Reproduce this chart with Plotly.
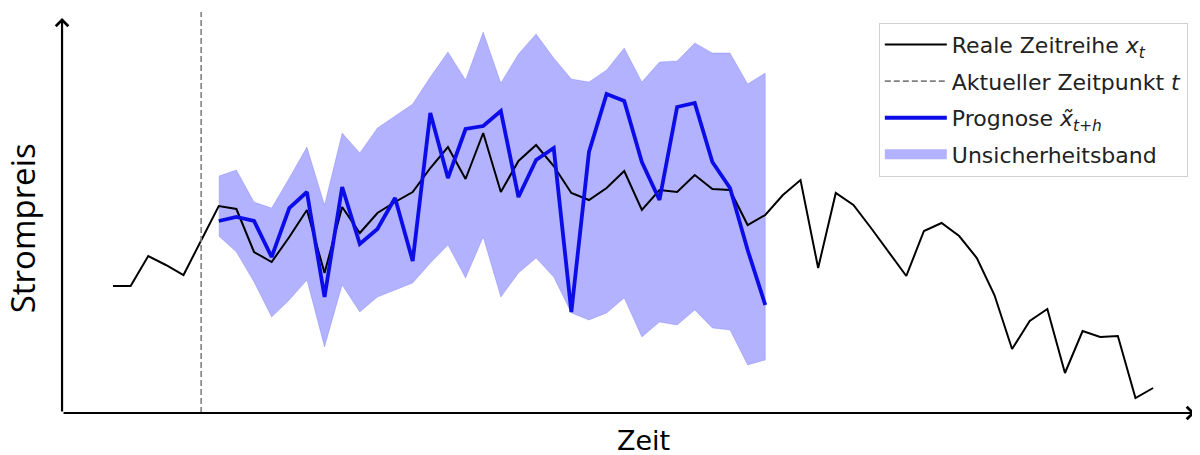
import plotly.graph_objects as go

# ---- data (arbitrary price units) ----
time_idx = list(range(60))
real_series = [127, 127, 157, 148, 138, 173, 207, 204, 161, 151,
               176, 203, 140, 206, 180, 200, 211, 221, 245, 266,
               234, 280, 221, 252, 268, 247, 220, 213, 225, 242,
               203, 223, 221, 238, 224, 223, 188, 198, 218, 233,
               145, 220, 208, 185, 161, 137, 182, 190, 177, 155,
               118, 64, 92, 104, 40, 82, 76, 77, 15, 25]

current_t = 5
forecast_idx = list(range(6, 38))
forecast = [192, 196, 192, 156, 205, 221, 116, 226, 169, 184,
            215, 152, 300, 235, 284, 287, 302, 216, 253, 265,
            101, 261, 319, 312, 251, 213, 306, 310, 251, 225,
            163, 108]
band_upper = [237, 243, 211, 205, 235, 266, 208, 280, 260, 285,
              297, 309, 336, 361, 333, 381, 330, 359, 379, 355,
              334, 331, 343, 365, 331, 351, 352, 370, 360, 360,
              329, 340]
band_lower = [177, 161, 131, 96, 113, 133, 66, 128, 101, 116,
              123, 130, 150, 168, 135, 176, 116, 140, 155, 136,
              100, 93, 100, 115, 76, 91, 88, 103, 85, 83,
              48, 53]

x_range = [-3.176, 61.66]
y_range = [-5, 405]
vline_top = 401
axis_x0 = -2.89
axis_x1 = 61.37
axis_y1 = 395

BAND_COLOR = "rgba(0,0,255,0.3)"

fig = go.Figure()

# uncertainty band
fig.add_trace(go.Scatter(
    x=forecast_idx + forecast_idx[::-1],
    y=band_upper + band_lower[::-1],
    fill="toself", fillcolor=BAND_COLOR,
    line=dict(color=BAND_COLOR, width=0.5),
    mode="lines", name="Unsicherheitsband", showlegend=False,
    legendgroup="d", hoverinfo="skip"))

# real series
fig.add_trace(go.Scatter(
    x=time_idx, y=real_series, mode="lines",
    line=dict(color="black", width=2),
    name="Reale Zeitreihe <i>x</i><sub><i>t</i></sub>",
    legendgroup="a", legendrank=1))

# current time
fig.add_trace(go.Scatter(
    x=[current_t, current_t], y=[0, vline_top], mode="lines",
    line=dict(color="#808080", width=1.6, dash="6px,3px"),
    name="Aktueller Zeitpunkt <i>t</i>",
    legendgroup="b", legendrank=2))

# forecast
fig.add_trace(go.Scatter(
    x=forecast_idx, y=forecast, mode="lines",
    line=dict(color="#0c0ce8", width=3.8),
    name="Prognose <i>x\u0303</i><sub><i>t+h</i></sub>",
    legendgroup="c", legendrank=3))

# legend entry for the band (rectangular swatch)
fig.add_trace(go.Scatter(
    x=[None], y=[None], mode="lines",
    line=dict(color=BAND_COLOR, width=17),
    name="Unsicherheitsband", legendgroup="d", legendrank=4))

# axis arrows
for (x0, y0, x1, y1) in [(axis_x0, 0, axis_x0, axis_y1), (axis_x0, 0, axis_x1, 0)]:
    fig.add_annotation(x=x1, y=y1, ax=x0, ay=y0, xref="x", yref="y",
                       axref="x", ayref="y", showarrow=True, text="",
                       arrowhead=4, arrowsize=1.1, arrowwidth=2.2,
                       arrowcolor="black", standoff=0, startstandoff=0)

fig.add_annotation(text="Strompreis", xref="paper", yref="paper",
                   x=-0.0305, y=0.463, textangle=-90, showarrow=False,
                   xanchor="center", yanchor="middle",
                   font=dict(family="Open Sans", size=33, color="black"))
fig.add_annotation(text="Zeit", xref="paper", yref="paper",
                   x=0.5127, y=-0.054, showarrow=False,
                   xanchor="center", yanchor="middle",
                   font=dict(family="DejaVu Sans", size=27, color="black"))

fig.update_layout(
    width=1192, height=447,
    margin=dict(l=49, r=0, t=0, b=37),
    paper_bgcolor="white", plot_bgcolor="white",
    xaxis=dict(range=x_range, visible=False),
    yaxis=dict(range=y_range, visible=False),
    showlegend=True,
    legend=dict(x=0.719, y=0.964, xanchor="left", yanchor="top",
                bgcolor="rgba(255,255,255,0.85)", bordercolor="#d0d0d0",
                borderwidth=1, tracegroupgap=5, traceorder="grouped",
                itemwidth=62,
                font=dict(family="DejaVu Sans", size=22, color="#222")),
)

fig.write_html("out.html")
